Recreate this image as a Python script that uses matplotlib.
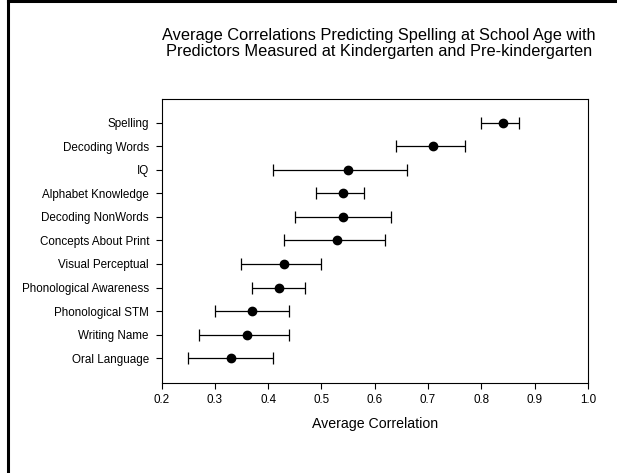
import matplotlib
matplotlib.use("Agg")
import matplotlib.pyplot as plt
from matplotlib.lines import Line2D

plt.rcParams['font.family'] = ['Liberation Sans', 'DejaVu Sans']

categories = ["Spelling", "Decoding Words", "IQ", "Alphabet Knowledge",
              "Decoding NonWords", "Concepts About Print", "Visual Perceptual",
              "Phonological Awareness", "Phonological STM", "Writing Name",
              "Oral Language"]
means = [0.84, 0.71, 0.55, 0.54, 0.54, 0.53, 0.43, 0.42, 0.37, 0.36, 0.33]
lower = [0.80, 0.64, 0.41, 0.49, 0.45, 0.43, 0.35, 0.37, 0.30, 0.27, 0.25]
upper = [0.87, 0.77, 0.66, 0.58, 0.63, 0.62, 0.50, 0.47, 0.44, 0.44, 0.41]
xticks = [0.2, 0.3, 0.4, 0.5, 0.6, 0.7, 0.8, 0.9, 1.0]

W, H = 617, 473
fig = plt.figure(figsize=(W / 100, H / 100), dpi=100)
ax = fig.add_axes([161.5 / W, 1 - 383 / H, (588 - 161.5) / W, (383 - 99) / H])

n = len(categories)
ypos = [n - 1 - i for i in range(n)]
xerr = [[m - l for m, l in zip(means, lower)], [u - m for m, u in zip(means, upper)]]
ax.errorbar(means, ypos, xerr=xerr, fmt='o', color='black', ecolor='black',
            markersize=6, elinewidth=0.9, capsize=4.5, capthick=0.9)

ax.set_xlim(0.2, 1.0)
ax.set_ylim(-1.05, n - 1 + 1.0)
ax.set_xticks(xticks)
ax.set_xticklabels([f"{t:.1f}" for t in xticks], fontsize=8.4)
ax.set_yticks(ypos)
ax.set_yticklabels(categories, fontsize=8.4)
ax.tick_params(axis='both', direction='out', length=4, width=0.8, color='black')
ax.tick_params(axis='y', pad=5)
ax.tick_params(axis='x', pad=4)
for s in ax.spines.values():
    s.set_linewidth(0.8)
ax.set_xlabel("Average Correlation", fontsize=10.2, labelpad=8)

fig.text(379 / W, 1 - 43.5 / H,
         "Average Correlations Predicting Spelling at School Age with\n"
         "Predictors Measured at Kindergarten and Pre-kindergarten",
         ha='center', va='center', fontsize=11.8, linespacing=1.1)

# figure frame lines (left and top)
fig.add_artist(Line2D([8 / W, 8 / W], [0, 1 - 1.5 / H], transform=fig.transFigure,
                      color='black', linewidth=2.2))
fig.add_artist(Line2D([8 / W, 1], [1 - 1.5 / H, 1 - 1.5 / H], transform=fig.transFigure,
                      color='black', linewidth=2.2))

fig.savefig("out.png", dpi=100)
